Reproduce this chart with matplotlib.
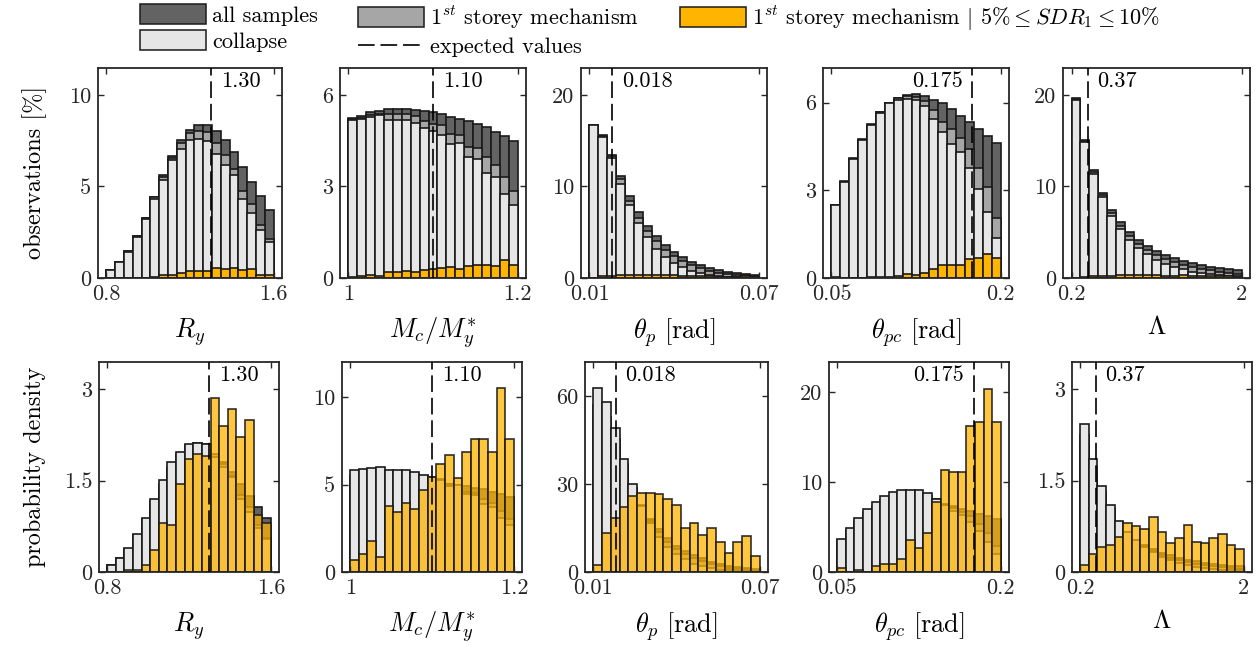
import numpy as np
import matplotlib.pyplot as plt
from matplotlib.patches import Patch
from matplotlib.lines import Line2D
from matplotlib.colors import to_rgba

plt.rcParams['font.family'] = ['cmr10', 'DejaVu Serif']
plt.rcParams['mathtext.fontset'] = 'cm'
plt.rcParams['axes.unicode_minus'] = False
plt.rcParams['axes.formatter.use_mathtext'] = True

# --- data: 19 bins per parameter, top row in % of all samples, bottom orange as pdf ---
ry_range = (0.8, 1.6)
ry_all = [0.45, 0.87, 1.46, 2.30, 3.30, 4.45, 5.60, 6.65, 7.55, 8.10, 8.38, 8.38, 8.05, 7.55, 6.90, 6.08, 5.26, 4.46, 3.72]
ry_first = [0.45, 0.87, 1.46, 2.28, 3.27, 4.40, 5.50, 6.55, 7.35, 7.90, 8.05, 7.95, 7.35, 6.70, 5.95, 4.77, 4.04, 2.90, 2.13]
ry_coll = [0.43, 0.85, 1.43, 2.25, 3.20, 4.32, 5.38, 6.45, 7.05, 7.55, 7.60, 7.50, 6.75, 6.20, 5.60, 4.32, 3.55, 2.60, 1.95]
ry_orange = [0.00, 0.00, 0.01, 0.01, 0.02, 0.07, 0.15, 0.15, 0.28, 0.36, 0.38, 0.37, 0.55, 0.47, 0.52, 0.43, 0.48, 0.18, 0.15]
ry_orange_pdf = [0.00, 0.00, 0.04, 0.04, 0.12, 0.36, 0.80, 0.77, 1.44, 1.86, 1.94, 1.90, 2.86, 2.40, 2.67, 2.22, 2.49, 0.94, 0.80]

mc_range = (1.0, 1.2)
mc_all = [5.25, 5.32, 5.43, 5.46, 5.53, 5.54, 5.54, 5.51, 5.49, 5.43, 5.38, 5.29, 5.21, 5.13, 5.05, 4.94, 4.80, 4.66, 4.50]
mc_first = [5.21, 5.26, 5.33, 5.37, 5.36, 5.38, 5.37, 5.30, 5.15, 5.05, 5.00, 4.72, 4.70, 4.30, 4.25, 3.95, 3.70, 3.30, 2.85]
mc_coll = [5.17, 5.22, 5.28, 5.33, 5.17, 5.17, 5.17, 5.07, 4.92, 4.82, 4.69, 4.40, 4.42, 3.95, 3.90, 3.45, 3.30, 2.75, 2.40]
mc_orange = [0.04, 0.06, 0.10, 0.05, 0.21, 0.19, 0.22, 0.20, 0.26, 0.30, 0.34, 0.37, 0.30, 0.38, 0.42, 0.42, 0.38, 0.58, 0.42]
mc_orange_pdf = [0.71, 1.05, 1.78, 0.86, 3.77, 3.45, 3.97, 3.60, 4.69, 5.44, 6.15, 6.69, 5.40, 6.86, 7.62, 7.62, 6.88, 10.52, 7.62]

tp_range = (0.01, 0.07)
tp_all = [16.72, 15.66, 13.48, 11.11, 9.00, 7.18, 5.72, 4.55, 3.61, 2.80, 2.26, 1.79, 1.46, 1.06, 0.87, 0.69, 0.55, 0.44, 0.36]
tp_first = [16.72, 15.50, 13.30, 10.80, 8.45, 6.60, 5.15, 4.00, 3.05, 2.35, 1.85, 1.40, 1.10, 0.80, 0.60, 0.45, 0.35, 0.28, 0.22]
tp_coll = [16.70, 15.40, 13.10, 10.30, 8.00, 6.00, 4.45, 3.20, 2.26, 1.60, 1.17, 0.73, 0.50, 0.36, 0.22, 0.15, 0.10, 0.08, 0.05]
tp_orange = [0.03, 0.19, 0.26, 0.32, 0.37, 0.38, 0.38, 0.38, 0.35, 0.33, 0.21, 0.24, 0.18, 0.21, 0.14, 0.09, 0.14, 0.18, 0.08]
tp_orange_pdf = [2.3, 13.3, 18.5, 22.2, 25.9, 27.0, 27.0, 26.6, 24.8, 23.0, 14.9, 16.8, 12.6, 15.0, 10.2, 6.5, 10.1, 12.4, 5.3]

tpc_range = (0.05, 0.2)
tpc_all = [2.51, 3.31, 4.09, 4.74, 5.26, 5.69, 6.00, 6.17, 6.26, 6.29, 6.21, 6.09, 5.97, 5.77, 5.54, 5.34, 5.11, 4.86, 4.61]
tpc_first = [2.50, 3.30, 4.08, 4.73, 5.25, 5.68, 5.99, 6.15, 6.22, 6.20, 6.05, 5.75, 5.35, 5.09, 4.78, 4.42, 3.77, 3.12, 2.06]
tpc_coll = [2.49, 3.29, 4.07, 4.72, 5.24, 5.66, 5.97, 6.10, 6.12, 6.10, 5.90, 5.43, 5.00, 4.58, 4.30, 3.77, 3.05, 2.26, 1.37]
tpc_orange = [0.02, 0.00, 0.01, 0.00, 0.03, 0.03, 0.03, 0.06, 0.15, 0.11, 0.17, 0.31, 0.46, 0.45, 0.45, 0.65, 0.67, 0.82, 0.67]
tpc_orange_pdf = [0.44, 0.04, 0.19, 0.04, 0.67, 0.85, 0.85, 1.41, 3.59, 2.67, 4.33, 7.74, 11.30, 11.11, 11.11, 16.20, 16.67, 20.30, 16.67]

lam_range = (0.2, 2.0)
lam_all = [19.64, 15.08, 11.80, 9.29, 7.47, 6.08, 4.99, 4.19, 3.53, 2.99, 2.55, 2.19, 1.89, 1.68, 1.46, 1.24, 1.09, 0.95, 0.87]
lam_first = [19.60, 15.00, 11.60, 9.05, 7.15, 5.70, 4.60, 3.75, 3.05, 2.50, 2.05, 1.70, 1.40, 1.20, 1.00, 0.82, 0.68, 0.55, 0.48]
lam_coll = [19.50, 14.90, 11.40, 8.85, 6.75, 5.30, 4.20, 3.30, 2.60, 2.00, 1.55, 1.20, 0.95, 0.70, 0.55, 0.42, 0.32, 0.25, 0.20]
lam_orange = [0.05, 0.12, 0.18, 0.19, 0.25, 0.34, 0.32, 0.30, 0.38, 0.28, 0.20, 0.24, 0.33, 0.21, 0.20, 0.24, 0.27, 0.19, 0.16]
lam_orange_pdf = [0.11, 0.29, 0.41, 0.45, 0.57, 0.80, 0.75, 0.70, 0.90, 0.65, 0.48, 0.56, 0.78, 0.50, 0.47, 0.56, 0.62, 0.45, 0.37]

expected = [1.30, 1.10, 0.018, 0.175, 0.37]
expected_txt = ['1.30', '1.10', '0.018', '0.175', '0.37']
xlabels = [r'$R_y$', r'$M_c/M_y^{*}$', r'$\theta_p\ \mathrm{[rad]}$', r'$\theta_{pc}\ \mathrm{[rad]}$', r'$\Lambda$']
xtick_lbl = [['0.8', '1.6'], ['1', '1.2'], ['0.01', '0.07'], ['0.05', '0.2'], ['0.2', '2']]
top_ylim = [11.5, 6.9, 23, 7.2, 23]
top_yticks = [[0, 5, 10], [0, 3, 6], [0, 10, 20], [0, 3, 6], [0, 10, 20]]
bot_ylim = [3.45, 12.0, 71.6, 23.3, 3.45]
bot_yticks = [[0, 1.5, 3], [0, 5, 10], [0, 30, 60], [0, 10, 20], [0, 1.5, 3]]
bot_ytick_lbl = [['0', '1.5', '3'], ['0', '5', '10'], ['0', '30', '60'], ['0', '10', '20'], ['0', '1.5', '3']]

ranges = [ry_range, mc_range, tp_range, tpc_range, lam_range]
all_s = [ry_all, mc_all, tp_all, tpc_all, lam_all]
first_s = [ry_first, mc_first, tp_first, tpc_first, lam_first]
coll_s = [ry_coll, mc_coll, tp_coll, tpc_coll, lam_coll]
orange_s = [ry_orange, mc_orange, tp_orange, tpc_orange, lam_orange]
orange_pdf_s = [ry_orange_pdf, mc_orange_pdf, tp_orange_pdf, tpc_orange_pdf, lam_orange_pdf]

c_all = '#636363'
c_first = '#a6a6a6'
c_coll = '#e6e6e6'
c_or = '#ffb400'
ec = '#1a1a1a'

W, H = 1259, 653
fig = plt.figure(figsize=(W / 100, H / 100), dpi=100)


def rect(x0, y0, x1, y1):
    return [x0 / W, 1 - y1 / H, (x1 - x0) / W, (y1 - y0) / H]


top_boxes = [(98, 67.5, 282, 278), (340, 67.5, 526, 278), (581, 67.5, 767, 278),
             (823, 67.5, 1009, 278), (1063, 67.5, 1250, 278)]
bot_boxes = [(99, 362, 279, 572), (342, 362, 522, 572), (585, 362, 768, 572),
             (829, 362, 1009, 572), (1072, 362, 1252, 572)]


def style_axes(ax, i, yt, ytl):
    lo, hi = ranges[i]
    pad = 0.05 * (hi - lo)
    ax.set_xlim(lo - pad, hi + pad)
    ax.set_xticks([lo, hi])
    ax.set_xticklabels(xtick_lbl[i])
    ax.set_yticks(yt)
    ax.set_yticklabels(ytl)
    ax.tick_params(direction='in', top=True, right=True, length=4, width=1,
                   labelsize=16, pad=5, colors='#262626')
    for s in ax.spines.values():
        s.set_linewidth(1.3)
        s.set_color('#262626')
    ax.set_xlabel(xlabels[i], fontsize=19, labelpad=8)
    ax.axvline(expected[i], color='k', lw=1.2, ls=(0, (10, 3.5)), zorder=5)
    if i == 3:
        ax.annotate(expected_txt[i], xy=(expected[i], 0.935), xycoords=('data', 'axes fraction'),
                    xytext=(-7, 0), textcoords='offset points', ha='right', va='center', fontsize=16)
    else:
        ax.annotate(expected_txt[i], xy=(expected[i], 0.935), xycoords=('data', 'axes fraction'),
                    xytext=(7, 0), textcoords='offset points', ha='left', va='center', fontsize=16)


for i in range(5):
    lo, hi = ranges[i]
    edges = np.linspace(lo, hi, 20)
    centers = 0.5 * (edges[:-1] + edges[1:])

    # top row: observations in %
    ax = fig.add_axes(rect(*top_boxes[i]))
    for vals, col in [(all_s[i], c_all), (first_s[i], c_first), (coll_s[i], c_coll), (orange_s[i], c_or)]:
        ax.hist(centers, bins=edges, weights=vals, facecolor=col, edgecolor=ec, linewidth=1.2)
    ax.set_ylim(0, top_ylim[i])
    style_axes(ax, i, top_yticks[i], [str(t) for t in top_yticks[i]])

    # bottom row: probability density
    ax = fig.add_axes(rect(*bot_boxes[i]))
    for vals, col in [(all_s[i], c_all), (first_s[i], c_first), (coll_s[i], c_coll)]:
        ax.hist(centers, bins=edges, weights=vals, density=True, facecolor=col, edgecolor=ec, linewidth=1.2)
    ax.hist(centers, bins=edges, weights=orange_pdf_s[i], facecolor=to_rgba(c_or, 0.75),
            edgecolor=to_rgba(ec, 0.9), linewidth=1.2)
    ax.set_ylim(0, bot_ylim[i])
    style_axes(ax, i, bot_yticks[i], bot_ytick_lbl[i])

fig.text(35 / W, 1 - 172 / H, 'observations [%]', rotation=90, ha='center', va='center', fontsize=17.5)
fig.text(35 / W, 1 - 467 / H, 'probability density', rotation=90, ha='center', va='center', fontsize=17.5)

# legend, one column at a time
leg_kw = dict(loc='upper left', frameon=False, fontsize=16, handlelength=2.95, handleheight=1.0,
              handletextpad=0.3, labelspacing=0.22, borderpad=0, borderaxespad=0)
h_all = Patch(facecolor=c_all, edgecolor=ec, linewidth=1.1)
h_coll = Patch(facecolor=c_coll, edgecolor=ec, linewidth=1.1)
h_first = Patch(facecolor=c_first, edgecolor=ec, linewidth=1.1)
h_exp = Line2D([], [], color='k', lw=1.2, ls=(0, (10, 3.5)))
h_or = Patch(facecolor=c_or, edgecolor=ec, linewidth=1.1)
fig.legend([h_all, h_coll], ['all samples', 'collapse'], bbox_to_anchor=(140 / W, 1 - 4 / H), **leg_kw)
fig.legend([h_first, h_exp], [r'$1^{st}$ storey mechanism', 'expected values'],
           bbox_to_anchor=(358 / W, 1 - 4 / H), **leg_kw)
fig.legend([h_or], [r'$1^{st}$ storey mechanism $|$ $5\%\leq SDR_1\leq 10\%$'],
           bbox_to_anchor=(680 / W, 1 - 4 / H), **leg_kw)

fig.savefig('out.png', dpi=100)
